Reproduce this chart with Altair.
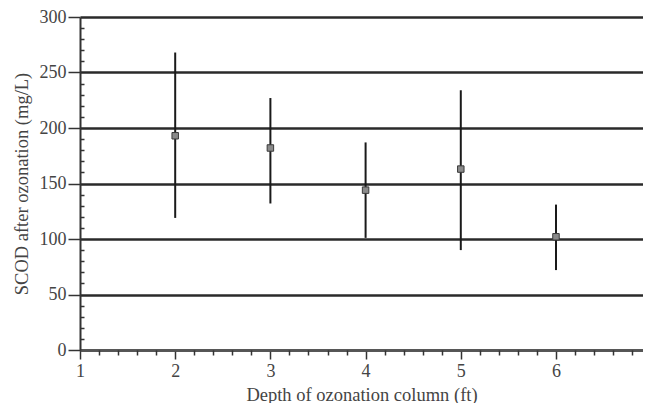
import altair as alt
import pandas as pd

depth = [2, 3, 4, 5, 6]
scod = [193, 182, 144, 163, 102]
low = [119, 132, 101, 90, 72]
high = [268, 227, 187, 234, 131]

x_major = [1, 2, 3, 4, 5, 6]
x_edge_label = [7]
x_minor = [round(1 + i * 0.2, 1) for i in range(30) if i % 5 != 0]
y_major = [0, 50, 100, 150, 200, 250, 300]
y_minor = [v for v in range(0, 301, 10) if v % 50 != 0]

df = pd.DataFrame({"depth": depth, "scod": scod, "low": low, "high": high})
edge_df = pd.DataFrame({"depth": x_edge_label, "y": [0], "label": [str(v) for v in x_edge_label]})

FONT = "Liberation Serif"
TXT = "#444444"

# plot area is 563 px wide at ~95.2 px per foot, so the right edge falls just short of 7
x_scale = alt.Scale(domain=[1, 6.914], nice=False, zero=False)
y_scale = alt.Scale(domain=[0, 300], nice=False, zero=False)

bars = alt.Chart(df).mark_rule(color="#1a1a1a", strokeWidth=2).encode(
    x=alt.X("depth:Q", scale=x_scale,
            axis=alt.Axis(values=x_major, orient="bottom", tickSize=9, tickColor="#333333",
                          tickWidth=1.5, domainColor="#555555", domainWidth=2.5,
                          labelFont=FONT, labelFontSize=18, labelColor=TXT, labelPadding=3,
                          labelFlush=False, labelOverlap=False, format="d",
                          title="Depth of ozonation column (ft)", titleFont=FONT,
                          titleFontSize=18.5, titleFontWeight="normal", titleColor=TXT,
                          titlePadding=5, grid=False)),
    y=alt.Y("low:Q", scale=y_scale,
            axis=alt.Axis(values=y_major, orient="left", tickSize=12, tickColor="#333333",
                          tickWidth=1.5, domainColor="#333333", domainWidth=2,
                          labelFont=FONT, labelFontSize=18, labelColor=TXT, labelPadding=2,
                          labelFlush=False, labelOverlap=False,
                          title="SCOD after ozonation (mg/L)", titleFont=FONT,
                          titleFontSize=18.5, titleFontWeight="normal", titleColor=TXT,
                          titlePadding=8, grid=True, gridColor="#2a2a2a", gridWidth=2.5)),
    y2="high:Q",
)

points = alt.Chart(df).mark_square(size=42, fill="#8a8a8a", stroke="#3a3a3a",
                                   strokeWidth=1, opacity=1).encode(
    x=alt.X("depth:Q", scale=x_scale,
            axis=alt.Axis(values=x_minor, orient="bottom", tickSize=5, tickColor="#333333",
                          tickWidth=1.5, labels=False, domain=False, grid=False, title=None)),
    y=alt.Y("scod:Q", scale=y_scale,
            axis=alt.Axis(values=y_minor, orient="left", offset=-4, tickSize=4,
                          tickColor="#333333", tickWidth=1.5, labels=False, domain=False,
                          grid=False, title=None)),
)

edge = alt.Chart(edge_df).mark_text(font=FONT, fontSize=18, color=TXT, baseline="top",
                                    align="center", dy=12, clip=False).encode(
    x=alt.X("depth:Q", scale=x_scale, axis=None),
    y=alt.Y("y:Q", scale=y_scale, axis=None),
    text="label:N",
)

chart = alt.layer(bars, points, edge).resolve_axis(x="independent", y="independent").properties(
    width=563, height=333,
    autosize=alt.AutoSizeParams(type="none"),
    padding={"left": 72, "top": 9, "right": 0, "bottom": 53},
).configure_view(stroke=None)

chart.save("out.html", embed_options={"renderer": "svg", "actions": False})
